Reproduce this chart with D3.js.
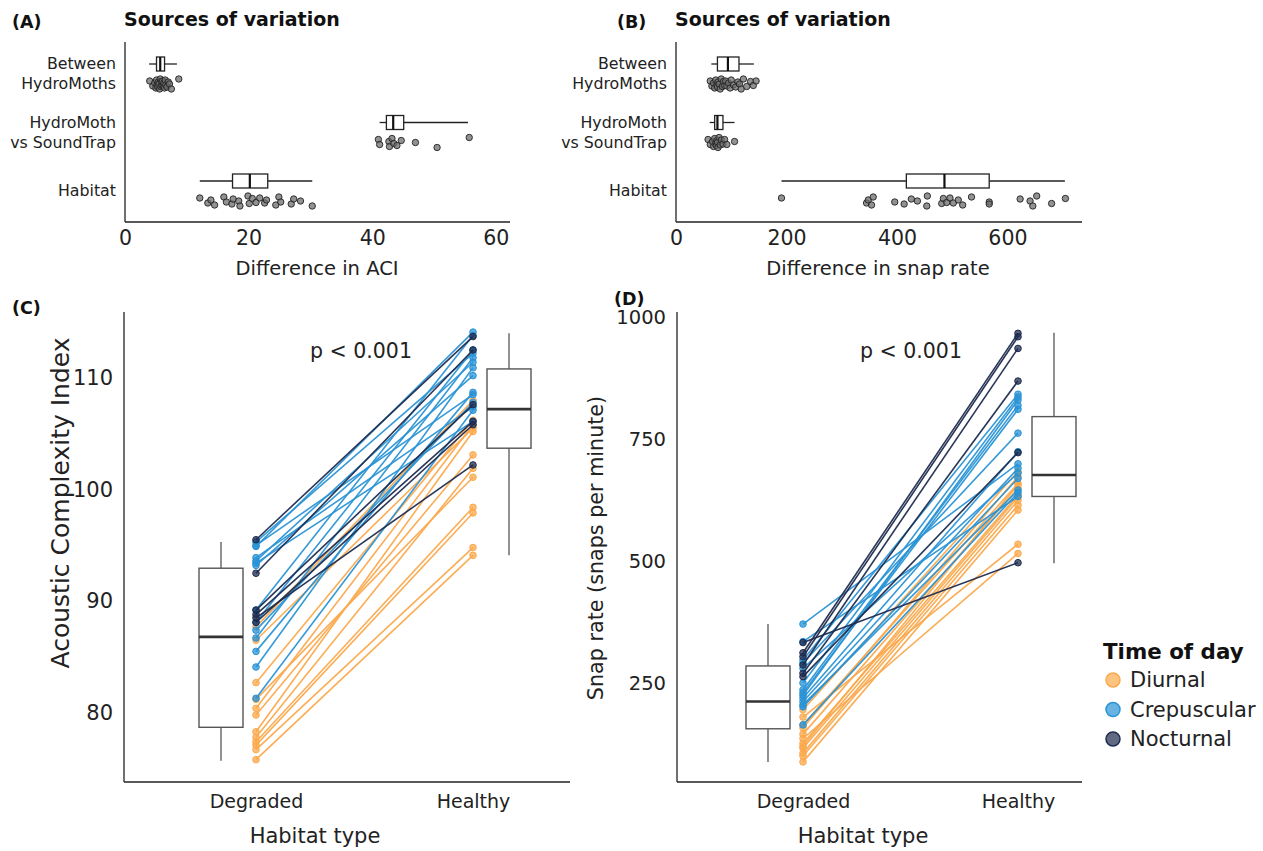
<!DOCTYPE html>
<html>
<head>
<meta charset="utf-8">
<script src="https://cdn.jsdelivr.net/npm/d3@7"></script>
<style>
  html, body { margin: 0; padding: 0; background: #fff; }
  svg { display: block; font-family: "DejaVu Sans", Verdana, sans-serif; }
</style>
</head>
<body>
<svg id="chart" width="1263" height="851"></svg>
<script>
// ---------------- DATA ----------------
const sourceCategories = ["Between\nHydroMoths", "HydroMoth\nvs SoundTrap", "Habitat"];

// Panel A: difference in ACI (points)
const aciBetween = [4.0, 4.5, 4.8, 5.0, 5.1, 5.2, 5.3, 5.4, 5.5, 5.6, 5.7, 5.8, 5.9, 6.0, 6.1, 6.2, 6.3, 6.4, 6.5, 6.6, 6.8, 7.0, 7.2, 7.5, 8.7];
const aciHvS = [41.0, 41.2, 42.7, 42.8, 43.2, 43.5, 44.0, 44.7, 47.0, 50.5, 55.7];
const aciHabitat = [12.1, 13.4, 13.9, 14.5, 16.0, 16.4, 17.3, 17.5, 18.4, 18.6, 19.9, 20.1, 20.6, 21.2, 21.8, 22.6, 22.9, 24.4, 24.9, 25.2, 26.9, 27.3, 28.4, 30.3];
// box summaries [whiskerLow, q1, median, q3, whiskerHigh]
const aciBoxBetween = [3.9, 5.1, 5.7, 6.4, 8.4];
const aciBoxHvS = [41.2, 42.3, 43.4, 45.1, 55.5];
const aciBoxHabitat = [12.1, 17.4, 20.2, 23.1, 30.3];
const aciTicks = [0, 20, 40, 60];

// Panel B: difference in snap rate (points)
const snapBetween = [62, 65, 68, 70, 72, 74, 75, 76, 78, 80, 82, 84, 86, 88, 90, 92, 95, 98, 100, 104, 108, 112, 115, 118, 122, 128, 135, 140, 145];
const snapHvS = [58, 62, 66, 68, 70, 72, 73, 74, 75, 76, 78, 80, 82, 85, 88, 92, 106];
const snapHabitat = [191, 345, 348, 354, 357, 396, 413, 426, 437, 454, 455, 481, 484, 490, 496, 502, 511, 519, 535, 567, 567, 623, 641, 646, 653, 680, 705];
const snapBoxBetween = [64, 75, 94, 114, 141];
const snapBoxHvS = [61, 70, 75, 85, 106];
const snapBoxHabitat = [191, 417, 486, 567, 704];
const snapTicks = [0, 200, 400, 600];

// Panel C: Acoustic Complexity Index, paired degraded -> healthy
const habitatTypes = ["Degraded", "Healthy"];
const aciDiurnalDegraded = [87.7, 86.5, 82.7, 81.2, 80.4, 79.8, 78.3, 77.8, 77.4, 77.1, 76.7, 75.8];
const aciDiurnalHealthy  = [108.0, 105.5, 106.2, 101.1, 105.8, 103.1, 105.2, 101.9, 98.4, 97.9, 94.8, 94.1];
const aciCrepDegraded = [95.3, 95.0, 94.9, 93.9, 93.6, 93.4, 93.2, 89.2, 88.1, 87.4, 86.7, 85.5, 84.1, 81.3];
const aciCrepHealthy  = [112.2, 108.5, 114.1, 107.4, 111.4, 106.1, 110.2, 113.8, 112.5, 107.8, 111.8, 108.7, 110.9, 107.1];
const aciNoctDegraded = [95.5, 92.5, 89.2, 88.8, 88.1, 88.5];
const aciNoctHealthy  = [113.7, 112.5, 107.6, 106.1, 105.8, 102.2];
const aciBoxDegraded = [75.7, 78.7, 86.8, 92.95, 95.3];
const aciBoxHealthy = [94.1, 103.7, 107.2, 110.8, 114.0];
const aciYTicks = [80, 90, 100, 110];

// Panel D: snap rate, paired degraded -> healthy
const snapDiurnalDegraded = [195, 180, 164, 158, 145, 136, 126, 120, 116, 106, 100, 88];
const snapDiurnalHealthy  = [684, 535, 660, 674, 650, 516, 636, 657, 632, 625, 615, 605];
const snapCrepDegraded = [371, 335, 297, 291, 280, 250, 236, 230, 225, 219, 212, 205, 201, 164];
const snapCrepHealthy  = [700, 633, 843, 763, 681, 837, 820, 812, 831, 725, 691, 646, 670, 641];
const snapNoctDegraded = [333, 312, 304, 287, 270, 263];
const snapNoctHealthy  = [497, 968, 961, 937, 870, 723];
const snapBoxDegraded = [88, 156, 212, 285, 371];
const snapBoxHealthy = [496, 633, 677, 797, 969];
const snapYTicks = [250, 500, 750, 1000];

const timeOfDay = ["Diurnal", "Crepuscular", "Nocturnal"];
const timeColors = ["#fba94c", "#2a93d5", "#1f2b4e"];

// ---------------- DRAWING ----------------
const svg = d3.select("#chart");
const FONT = "DejaVu Sans, Verdana, sans-serif";
const jitterPattern = [-3, 2, -1, 4, -4, 1, 3, -2, 0, 5, -5, 2.5, -2.5, 1.5];

function panelLabel(x, y, t) {
  svg.append("text").attr("x", x).attr("y", y).attr("font-size", 17.5).attr("font-weight", "bold")
    .attr("fill", "#111").text(t);
}

function sourcesPanel(opts) {
  const g = svg.append("g");
  const x = d3.scaleLinear().domain(opts.domain).range([opts.x0, opts.x1]);
  const y = d3.scalePoint().domain(sourceCategories).range([64, 181]);
  g.append("line").attr("x1", opts.x0).attr("x2", opts.x0).attr("y1", 42).attr("y2", 222)
    .attr("stroke", "#222").attr("stroke-width", 1.3);
  g.append("line").attr("x1", opts.x0).attr("x2", opts.x1).attr("y1", 222).attr("y2", 222)
    .attr("stroke", "#222").attr("stroke-width", 1.3);
  const ax = g.append("g").attr("transform", "translate(0,222)")
    .call(d3.axisBottom(x).tickValues(opts.ticks).tickSize(0).tickPadding(8).tickFormat(d3.format("d")));
  ax.select(".domain").remove();
  ax.selectAll("text").attr("font-size", 20.5).attr("font-family", FONT).attr("fill", "#222");
  g.append("text").attr("x", opts.titleX).attr("y", 275).attr("text-anchor", "middle")
    .attr("font-size", 19.5).attr("fill", "#222").text(opts.xTitle);
  g.append("text").attr("x", opts.x0 - 1).attr("y", 26).attr("font-size", 19).attr("font-weight", "bold")
    .attr("fill", "#111").text("Sources of variation");
  sourceCategories.forEach(c => {
    const lines = c.split("\n");
    const t = g.append("text").attr("text-anchor", "end").attr("font-size", 15.8).attr("fill", "#222");
    const cy = y(c) + 10;
    lines.forEach((ln, i) => {
      t.append("tspan").attr("x", opts.x0 - 9).attr("y", cy + (i - (lines.length - 1) / 2) * 20 + 5).text(ln);
    });
  });
  opts.boxes.forEach((b, i) => {
    const cy = y(sourceCategories[i]);
    const h = 14;
    g.append("line").attr("x1", x(b[0])).attr("x2", x(b[1])).attr("y1", cy).attr("y2", cy).attr("stroke", "#222").attr("stroke-width", 1.3);
    g.append("line").attr("x1", x(b[3])).attr("x2", x(b[4])).attr("y1", cy).attr("y2", cy).attr("stroke", "#222").attr("stroke-width", 1.3);
    g.append("rect").attr("x", x(b[1])).attr("y", cy - h / 2).attr("width", x(b[3]) - x(b[1])).attr("height", h)
      .attr("fill", "#fff").attr("stroke", "#222").attr("stroke-width", 1.3);
    g.append("line").attr("x1", x(b[2])).attr("x2", x(b[2])).attr("y1", cy - h / 2).attr("y2", cy + h / 2)
      .attr("stroke", "#111").attr("stroke-width", 2.2);
  });
  opts.points.forEach((arr, i) => {
    const cy = y(sourceCategories[i]) + 20;
    g.selectAll(null).data(arr).enter().append("circle")
      .attr("cx", d => x(d))
      .attr("cy", (d, j) => cy + jitterPattern[j % jitterPattern.length])
      .attr("r", 3.2)
      .attr("fill", "rgba(110,110,110,0.75)")
      .attr("stroke", "#222").attr("stroke-width", 0.9);
  });
}

sourcesPanel({
  domain: [0, 62.3], x0: 125, x1: 510, ticks: aciTicks, xTitle: "Difference in ACI", titleX: 317,
  boxes: [aciBoxBetween, aciBoxHvS, aciBoxHabitat],
  points: [aciBetween, aciHvS, aciHabitat]
});
sourcesPanel({
  domain: [0, 735], x0: 676, x1: 1082, ticks: snapTicks, xTitle: "Difference in snap rate", titleX: 878,
  boxes: [snapBoxBetween, snapBoxHvS, snapBoxHabitat],
  points: [snapBetween, snapHvS, snapHabitat]
});
panelLabel(12, 28, "(A)");
panelLabel(617, 28, "(B)");

function pairedPanel(opts) {
  const g = svg.append("g");
  const y = d3.scaleLinear().domain(opts.yDomain).range([782, 312]);
  const x = d3.scalePoint().domain(habitatTypes).range(opts.catRange);
  g.append("line").attr("x1", opts.x0).attr("x2", opts.x0).attr("y1", 312).attr("y2", 782)
    .attr("stroke", "#222").attr("stroke-width", 1.3);
  g.append("line").attr("x1", opts.x0).attr("x2", opts.x1).attr("y1", 782).attr("y2", 782)
    .attr("stroke", "#222").attr("stroke-width", 1.3);
  const ay = g.append("g").attr("transform", `translate(${opts.x0},0)`)
    .call(d3.axisLeft(y).tickValues(opts.yTicks).tickSize(0).tickPadding(11).tickFormat(d3.format("d")));
  ay.select(".domain").remove();
  ay.selectAll("text").attr("font-size", opts.yTickSize).attr("font-family", FONT).attr("fill", "#222");
  const axx = g.append("g").attr("transform", "translate(0,782)")
    .call(d3.axisBottom(x).tickSize(0).tickPadding(13));
  axx.select(".domain").remove();
  axx.selectAll("text").attr("font-size", 19).attr("font-family", FONT).attr("fill", "#222");
  g.append("text").attr("x", opts.xTitleX).attr("y", 843).attr("text-anchor", "middle")
    .attr("font-size", 21).attr("fill", "#222").text("Habitat type");
  g.append("text").attr("transform", `translate(${opts.yTitleX},${opts.yTitleY}) rotate(-90)`)
    .attr("text-anchor", "middle").attr("font-size", opts.yTitleSize).attr("fill", "#222").text(opts.yTitle);
  g.append("text").attr("x", opts.pX).attr("y", 358).attr("text-anchor", "middle")
    .attr("font-size", 20.5).attr("fill", "#222").text("p < 0.001");

  [[opts.boxD, "Degraded", -35], [opts.boxH, "Healthy", 36]].forEach(([b, cat, off]) => {
    const cx = x(cat) + off, w = 44;
    g.append("line").attr("x1", cx).attr("x2", cx).attr("y1", y(b[0])).attr("y2", y(b[4]))
      .attr("stroke", "#555").attr("stroke-width", 1.3);
    g.append("rect").attr("x", cx - w / 2).attr("y", y(b[3])).attr("width", w).attr("height", y(b[1]) - y(b[3]))
      .attr("fill", "#fff").attr("stroke", "#555").attr("stroke-width", 1.4);
    g.append("line").attr("x1", cx - w / 2).attr("x2", cx + w / 2).attr("y1", y(b[2])).attr("y2", y(b[2]))
      .attr("stroke", "#333").attr("stroke-width", 2.6);
  });

  opts.groups.forEach((grp, gi) => {
    const col = timeColors[gi];
    const pairs = grp[0].map((d, i) => [d, grp[1][i]]);
    g.selectAll(null).data(pairs).enter().append("line")
      .attr("x1", x("Degraded")).attr("x2", x("Healthy"))
      .attr("y1", d => y(d[0])).attr("y2", d => y(d[1]))
      .attr("stroke", col).attr("stroke-width", 1.6).attr("stroke-opacity", 0.95);
    pairs.forEach(p => {
      habitatTypes.forEach((h, hi) => {
        g.append("circle").attr("cx", x(h)).attr("cy", y(p[hi])).attr("r", 3.3)
          .attr("fill", col).attr("fill-opacity", 0.75).attr("stroke", col).attr("stroke-width", 1);
      });
    });
  });
}

pairedPanel({
  yDomain: [73.8, 115.9], x0: 124, x1: 570, catRange: [256, 473], yTicks: aciYTicks, yTickSize: 21,
  yTitle: "Acoustic Complexity Index", yTitleX: 69, yTitleY: 503, yTitleSize: 25, pX: 361, xTitleX: 315,
  boxD: aciBoxDegraded, boxH: aciBoxHealthy,
  groups: [[aciDiurnalDegraded, aciDiurnalHealthy], [aciCrepDegraded, aciCrepHealthy], [aciNoctDegraded, aciNoctHealthy]]
});
pairedPanel({
  yDomain: [46.7, 1011.8], x0: 677, x1: 1082, catRange: [803, 1018], yTicks: snapYTicks, yTickSize: 19.5,
  yTitle: "Snap rate (snaps per minute)", yTitleX: 603, yTitleY: 548, yTitleSize: 20.7, pX: 911, xTitleX: 863,
  boxD: snapBoxDegraded, boxH: snapBoxHealthy,
  groups: [[snapDiurnalDegraded, snapDiurnalHealthy], [snapCrepDegraded, snapCrepHealthy], [snapNoctDegraded, snapNoctHealthy]]
});
panelLabel(12, 314, "(C)");
panelLabel(614, 305, "(D)");

// legend
const lg = svg.append("g");
lg.append("text").attr("x", 1103).attr("y", 659).attr("font-size", 21.4).attr("font-weight", "bold")
  .attr("fill", "#111").text("Time of day");
timeOfDay.forEach((t, i) => {
  const cy = 680 + i * 29.5;
  lg.append("circle").attr("cx", 1113).attr("cy", cy).attr("r", 7)
    .attr("fill", timeColors[i]).attr("fill-opacity", 0.7).attr("stroke", timeColors[i]).attr("stroke-width", 1.5);
  lg.append("text").attr("x", 1130).attr("y", cy + 7).attr("font-size", 21).attr("fill", "#222").text(t);
});
</script>
</body>
</html>
